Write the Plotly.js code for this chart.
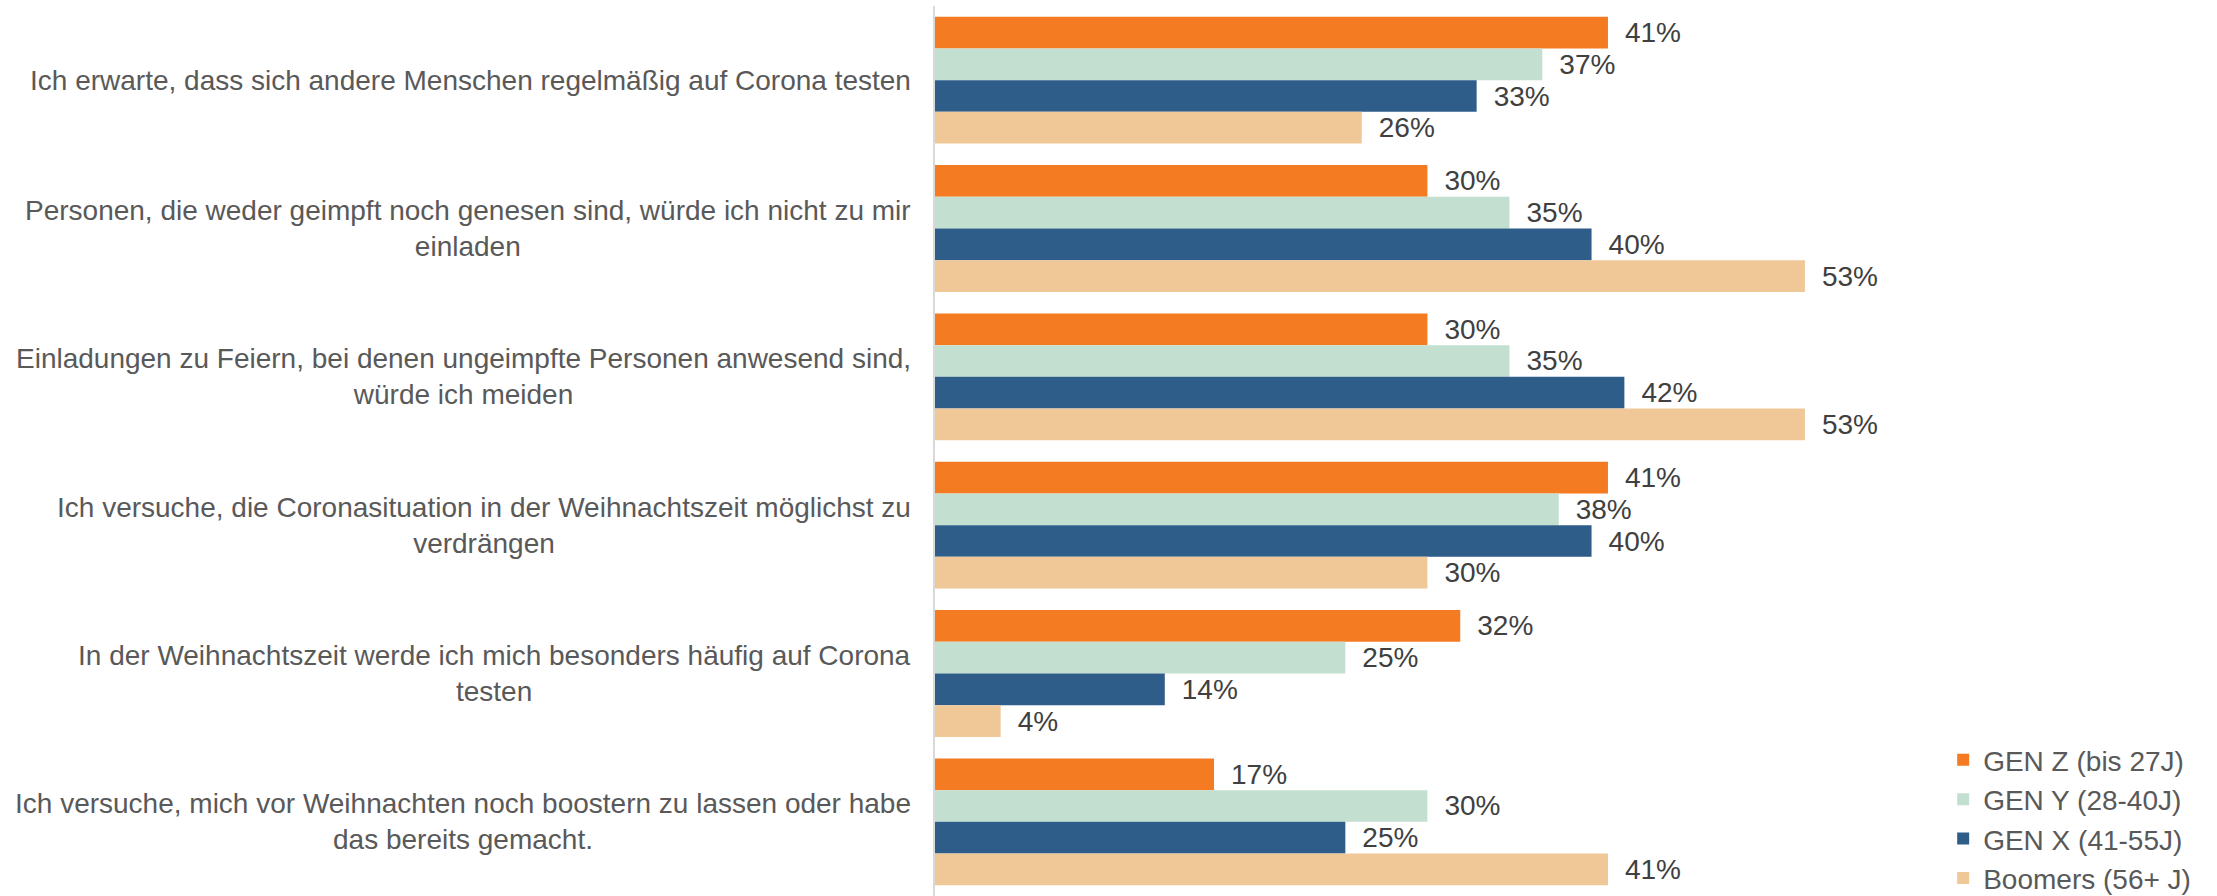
<!DOCTYPE html>
<html>
<head>
<meta charset="utf-8">
<script src="https://cdn.plot.ly/plotly-3.0.1.min.js"></script>
<style>
  html, body { margin: 0; padding: 0; background: #fff; }
  #chart { width: 2217px; height: 896px; }
</style>
</head>
<body>
<div id="chart"></div>
<script>
// Aussagen (von oben nach unten)
const statements = [
  "Ich erwarte, dass sich andere Menschen regelmäßig auf Corona testen",
  "Personen, die weder geimpft noch genesen sind, würde ich nicht zu mir<br>einladen",
  "Einladungen zu Feiern, bei denen ungeimpfte Personen anwesend sind,<br>würde ich meiden",
  "Ich versuche, die Coronasituation in der Weihnachtszeit möglichst zu<br>verdrängen",
  "In der Weihnachtszeit werde ich mich besonders häufig auf Corona<br>testen",
  "Ich versuche, mich vor Weihnachten noch boostern zu lassen oder habe<br>das bereits gemacht."
];

const seriesNames = ["GEN Z (bis 27J)", "GEN Y (28-40J)", "GEN X (41-55J)", "Boomers (56+ J)"];
const genZ    = [41, 30, 30, 41, 32, 17];
const genY    = [37, 35, 35, 38, 25, 30];
const genX    = [33, 40, 42, 40, 14, 25];
const boomers = [26, 53, 53, 30, 4, 41];
const colors  = ["#F47B22", "#C3DFD0", "#2E5D8A", "#F0C897"];

const values = [genZ, genY, genX, boomers];

const traces = values.map(function (vals, i) {
  return {
    type: "bar",
    orientation: "h",
    name: seriesNames[i],
    y: statements,
    x: vals,
    text: vals.map(v => "\u2002" + v + "%"),
    textposition: "outside",
    constraintext: "none",
    cliponaxis: false,
    textfont: { family: "Liberation Sans, Arial, sans-serif", size: 28, color: "#404040" },
    marker: { color: colors[i] },
    hoverinfo: "x+name"
  };
});

// labels left of the axis, centered lines like the original
const labelAnnotations = statements.map(function (s) {
  return {
    xref: "paper", yref: "y",
    x: -0.023, y: s,
    text: s,
    showarrow: false,
    xanchor: "right",
    yanchor: "middle",
    align: "center",
    font: { family: "Liberation Sans, Arial, sans-serif", size: 28, color: "#595959" }
  };
});

const layout = {
  width: 2217,
  height: 896,
  margin: { l: 935, r: 330, t: 6, b: 0, autoexpand: false },
  paper_bgcolor: "#ffffff",
  plot_bgcolor: "#ffffff",
  barmode: "group",
  bargap: 0.145,
  bargroupgap: 0,
  showlegend: true,
  legend: {
    x: 1.059, y: -0.008,
    xanchor: "left", yanchor: "bottom",
    font: { family: "Liberation Sans, Arial, sans-serif", size: 28, color: "#595959" },
    traceorder: "normal",
    bgcolor: "rgba(0,0,0,0)"
  },
  xaxis: {
    range: [0, 58],
    showticklabels: false,
    showgrid: false,
    zeroline: false,
    showline: false,
    fixedrange: true
  },
  yaxis: {
    autorange: "reversed",
    showticklabels: false,
    showgrid: false,
    zeroline: false,
    showline: true,
    linecolor: "#D9D9D9",
    linewidth: 2,
    ticks: "",
    fixedrange: true
  },
  annotations: labelAnnotations
};

Plotly.newPlot("chart", traces, layout, { displayModeBar: false, staticPlot: true });
</script>
</body>
</html>
